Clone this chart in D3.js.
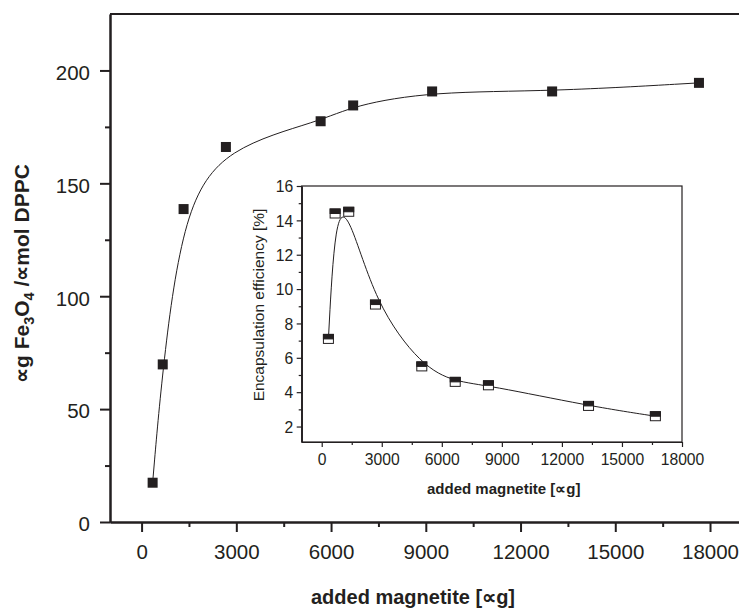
<!DOCTYPE html>
<html><head><meta charset="utf-8">
<script src="https://cdn.jsdelivr.net/npm/d3@7"></script>
<style>
body{margin:0;background:#fff}
svg{display:block}
text{font-family:"Liberation Sans",Arial,sans-serif;fill:#231f20}
</style>
</head><body>
<svg id="c" width="739" height="609"></svg>
<script>
// ---- data ----
const mainX = [350, 670, 1330, 2670, 5670, 6700, 9200, 13000, 17650];
const mainY = [17.4, 69.8, 138.6, 166.1, 177.5, 184.5, 190.7, 190.7, 194.5];
const insetX = [335, 670, 1350, 2685, 5000, 6670, 8330, 13330, 16670];
const insetY = [7.1, 14.4, 14.5, 9.1, 5.5, 4.6, 4.4, 3.2, 2.6];
const mainXTicks = [0, 3000, 6000, 9000, 12000, 15000, 18000];
const mainXMinor = [1500, 4500, 7500, 10500, 13500, 16500];
const mainYTicks = [0, 50, 100, 150, 200];
const mainYMinor = [25, 75, 125, 175];
const insetXTicks = [0, 3000, 6000, 9000, 12000, 15000, 18000];
const insetXMinor = [1500, 4500, 7500, 10500, 13500, 16500];
const insetYTicks = [2, 4, 6, 8, 10, 12, 14, 16];
const insetYMinor = [3, 5, 7, 9, 11, 13, 15];

const ink = "#231f20";
const svg = d3.select("#c");
svg.append("rect").attr("width", 739).attr("height", 609).attr("fill", "#fff");

// ---- main chart ----
const x = d3.scaleLinear().domain([-1000, 19000]).range([110, 741.6]);
const y = d3.scaleLinear().domain([0, 225]).range([522, 14]);

// frame top & right
svg.append("line").attr("x1", x.range()[0]).attr("x2", x.range()[1])
  .attr("y1", y(225)).attr("y2", y(225)).attr("stroke", ink).attr("stroke-width", 2);
svg.append("line").attr("x1", x.range()[1]).attr("x2", x.range()[1])
  .attr("y1", y(225)).attr("y2", y(0)).attr("stroke", ink).attr("stroke-width", 2);

function styleAxis(g, w) {
  g.select(".domain").attr("stroke", ink).attr("stroke-width", w);
  g.selectAll(".tick line").attr("stroke", ink).attr("stroke-width", w);
}

const gxMinor = svg.append("g").attr("transform", `translate(0,${y(0)})`)
  .call(d3.axisBottom(x).tickValues(mainXMinor).tickSize(5).tickSizeOuter(0).tickFormat(""));
styleAxis(gxMinor, 2);
const gx = svg.append("g").attr("transform", `translate(0,${y(0)})`)
  .call(d3.axisBottom(x).tickValues(mainXTicks).tickSize(10).tickSizeOuter(0).tickFormat(d3.format("d")));
styleAxis(gx, 2);
gx.selectAll("text").attr("y", 37).attr("dy", null)
  .style("font-size", "20.5px").attr("fill", ink);

const gyMinor = svg.append("g").attr("transform", `translate(${x(-1000)},0)`)
  .call(d3.axisLeft(y).tickValues(mainYMinor).tickSize(5).tickSizeOuter(0).tickFormat(""));
styleAxis(gyMinor, 2);
const gy = svg.append("g").attr("transform", `translate(${x(-1000)},0)`)
  .call(d3.axisLeft(y).tickValues(mainYTicks).tickSize(10).tickSizeOuter(0));
styleAxis(gy, 2);
gy.selectAll("text").attr("x", -20).attr("dy", "0.43em")
  .style("font-size", "20.5px").attr("fill", ink);

// main curve (B-spline)
const mainPts = mainX.map((v, i) => [v, mainY[i]]);
svg.append("path").datum(mainPts)
  .attr("d", d3.line().x(d => x(d[0])).y(d => y(d[1])).curve(d3.curveBasis))
  .attr("fill", "none").attr("stroke", ink).attr("stroke-width", 1);

const ms = 10;
svg.append("g").selectAll("rect").data(mainPts).join("rect")
  .attr("x", d => x(d[0]) - ms / 2).attr("y", d => y(d[1]) - ms / 2)
  .attr("width", ms).attr("height", ms).attr("fill", ink);

// main labels
const yl = svg.append("text").attr("transform", "translate(29,383) rotate(-90)")
  .attr("text-anchor", "start").style("font-size", "21px").style("font-weight", "bold");
yl.append("tspan").text("∝g Fe");
yl.append("tspan").text("3").attr("dy", 5).style("font-size", "14.5px");
yl.append("tspan").text("O").attr("dy", -5);
yl.append("tspan").text("4").attr("dy", 5).style("font-size", "14.5px");
yl.append("tspan").text(" /∝mol DPPC").attr("dy", -5);

svg.append("text").attr("x", 311).attr("y", 604).attr("text-anchor", "start")
  .style("font-size", "20px").style("font-weight", "bold").text("added magnetite [∝g]");

// ---- inset ----
const xi = d3.scaleLinear().domain([-1000, 18000]).range([301.7, 682]);
const yi = d3.scaleLinear().domain([1.1, 16]).range([442, 186]);

svg.append("rect").attr("x", xi.range()[0]).attr("y", yi.range()[1])
  .attr("width", xi.range()[1] - xi.range()[0]).attr("height", yi.range()[0] - yi.range()[1])
  .attr("fill", "#fff").attr("stroke", ink).attr("stroke-width", 1.2);

const gxiMinor = svg.append("g").attr("transform", `translate(0,${yi.range()[0]})`)
  .call(d3.axisBottom(xi).tickValues(insetXMinor).tickSize(3).tickSizeOuter(0).tickFormat(""));
styleAxis(gxiMinor, 1.2);
const gxi = svg.append("g").attr("transform", `translate(0,${yi.range()[0]})`)
  .call(d3.axisBottom(xi).tickValues(insetXTicks).tickSize(5).tickSizeOuter(0).tickFormat(d3.format("d")));
styleAxis(gxi, 1.2);
gxi.selectAll("text").attr("y", 23).attr("dy", null)
  .style("font-size", "15.7px").attr("fill", ink);

const gyiMinor = svg.append("g").attr("transform", `translate(${xi.range()[0]},0)`)
  .call(d3.axisLeft(yi).tickValues(insetYMinor).tickSize(3).tickSizeOuter(0).tickFormat(""));
styleAxis(gyiMinor, 1.2);
const gyi = svg.append("g").attr("transform", `translate(${xi.range()[0]},0)`)
  .call(d3.axisLeft(yi).tickValues(insetYTicks).tickSize(5).tickSizeOuter(0));
styleAxis(gyi, 1.2);
gyi.selectAll("text").attr("x", -8.4).attr("dy", "0.36em")
  .style("font-size", "15.7px").attr("fill", ink);

const insetPts = insetX.map((v, i) => [v, insetY[i]]);
svg.append("path").datum(insetPts)
  .attr("d", d3.line().x(d => xi(d[0])).y(d => yi(d[1])).curve(d3.curveBasis))
  .attr("fill", "none").attr("stroke", ink).attr("stroke-width", 1);

const mw = 10, mh = 9;
const mk = svg.append("g").selectAll("g").data(insetPts).join("g")
  .attr("transform", d => `translate(${xi(d[0])},${yi(d[1])})`);
mk.append("rect").attr("x", -mw / 2).attr("y", -mh / 2).attr("width", mw).attr("height", mh)
  .attr("fill", "#fff").attr("stroke", ink).attr("stroke-width", 1);
mk.append("rect").attr("x", -mw / 2).attr("y", -mh / 2).attr("width", mw).attr("height", mh / 2)
  .attr("fill", ink).attr("stroke", ink).attr("stroke-width", 1);

svg.append("text").attr("transform", "translate(264,305) rotate(-90)")
  .attr("text-anchor", "middle").style("font-size", "15.5px")
  .text("Encapsulation efficiency [%]");

svg.append("text").attr("x", 427).attr("y", 494).attr("text-anchor", "start")
  .style("font-size", "15px").style("font-weight", "bold").text("added magnetite [∝g]");
</script>
</body></html>
